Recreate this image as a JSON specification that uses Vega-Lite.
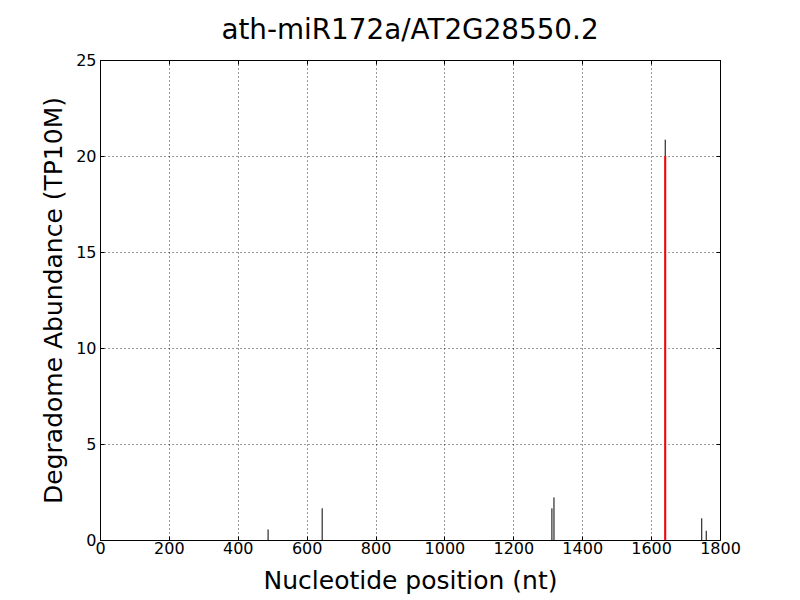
{
  "$schema": "https://vega.github.io/schema/vega-lite/v6.json",
  "width": 620,
  "height": 480,
  "autosize": {"type": "none"},
  "padding": {"left": 100, "top": 60, "right": 80, "bottom": 60},
  "background": "white",
  "config": {
    "font": "DejaVu Sans",
    "view": {"stroke": "black", "strokeWidth": 1},
    "axis": {
      "labelFont": "DejaVu Sans",
      "titleFont": "DejaVu Sans",
      "labelFontSize": 16,
      "titleFontSize": 25,
      "titleFontWeight": "normal",
      "labelColor": "black",
      "titleColor": "black",
      "labelFlush": false,
      "domain": false,
      "tickColor": "black",
      "tickSize": -4,
      "grid": true,
      "gridColor": "black",
      "gridDash": [1, 3],
      "gridOpacity": 1,
      "gridWidth": 0.8
    }
  },
  "title": {"text": "ath-miR172a/AT2G28550.2", "fontSize": 27.8, "fontWeight": "normal", "font": "DejaVu Sans", "offset": 7, "color": "black"},
  "data": {"values": [
    {"pos": 488, "abund": 0.55, "type": "other"},
    {"pos": 645, "abund": 1.65, "type": "other"},
    {"pos": 1312, "abund": 1.65, "type": "other"},
    {"pos": 1318, "abund": 2.22, "type": "other"},
    {"pos": 1641, "abund": 20.85, "type": "other"},
    {"pos": 1747, "abund": 1.13, "type": "other"},
    {"pos": 1760, "abund": 0.48, "type": "other"},
    {"pos": 1641, "abund": 20.0, "type": "target"}
  ]},
  "layer": [
    {
      "transform": [{"filter": "datum.type === 'other'"}],
      "mark": {"type": "rule", "color": "black", "strokeWidth": 1},
      "encoding": {
        "x": {"field": "pos", "type": "quantitative", "scale": {"domain": [0, 1800], "nice": false, "padding": 0},
              "axis": {"title": "Nucleotide position (nt)", "format": "d", "values": [0,200,400,600,800,1000,1200,1400,1600,1800], "labelPadding": 4, "titlePadding": 12}},
        "y": {"field": "abund", "type": "quantitative", "scale": {"domain": [0, 25], "nice": false, "padding": 0},
              "axis": {"title": "Degradome Abundance (TP10M)", "values": [0,5,10,15,20,25], "labelPadding": 8, "titlePadding": 9}},
        "y2": {"datum": 0}
      }
    },
    {
      "transform": [{"filter": "datum.type === 'target'"}],
      "mark": {"type": "rule", "color": "red", "strokeWidth": 2},
      "encoding": {
        "x": {"field": "pos", "type": "quantitative", "scale": {"domain": [0, 1800], "nice": false, "padding": 0},
              "axis": {"orient": "top", "labels": false, "title": null, "grid": false, "values": [0,200,400,600,800,1000,1200,1400,1600,1800]}},
        "y": {"field": "abund", "type": "quantitative", "scale": {"domain": [0, 25], "nice": false, "padding": 0},
              "axis": {"orient": "right", "labels": false, "title": null, "grid": false, "values": [0,5,10,15,20,25]}},
        "y2": {"datum": 0}
      }
    }
  ],
  "resolve": {"axis": {"x": "independent", "y": "independent"}}
}
